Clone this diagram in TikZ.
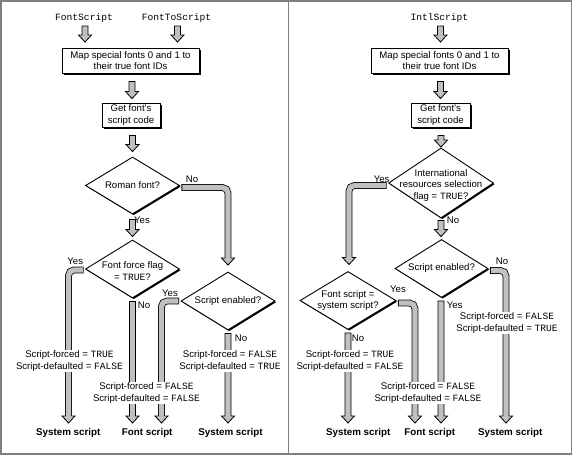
\documentclass[tikz,border=0pt]{standalone}
\usepackage{fontspec}
\setmainfont{Liberation Sans}
\setmonofont{Liberation Mono}
\usetikzlibrary{shapes.geometric,shadows,calc}
\definecolor{arrowgray}{HTML}{C0C0C0}
\definecolor{framegray}{HTML}{808080}
\newcommand\dfont{\fontsize{9.6}{11.3}\selectfont}
% straight downward fat arrow: #1 start, #2 tip
\newcommand\fatdown[2]{%
  \filldraw[fill=arrowgray,draw=black,line width=0.8pt,line join=miter]
    ($(#2|-#1)+(-3,0)$) -- ($(#2|-#1)+(3,0)$) -- ($(#2)+(3,-7)$) -- ($(#2)+(6.5,-7)$)
    -- (#2) -- ($(#2)+(-6.5,-7)$) -- ($(#2)+(-3,-7)$) -- cycle;}
% elbow fat arrow: #1 start (horizontal leg), #2 tip (downward), #3 direction (1 right, -1 left)
\newcommand\fatelbow[3]{%
  \draw[line width=6.8pt,black,rounded corners=5.5pt] (#1) -- (#2|-#1) -- ($(#2)+(0,-7)$);
  \draw[line width=5.2pt,arrowgray,rounded corners=5.5pt] ($(#1)+(#3*0.8,0)$) -- (#2|-#1) -- ($(#2)+(0,-6.6)$);
  \fill[arrowgray] ($(#2)+(-6.5,-7)$) -- (#2) -- ($(#2)+(6.5,-7)$) -- cycle;
  \draw[black,line width=0.8pt,line join=miter] ($(#2)+(-3,-7)$) -- ($(#2)+(-6.5,-7)$) -- (#2) -- ($(#2)+(6.5,-7)$) -- ($(#2)+(3,-7)$);}
\tikzset{
  procbox/.style={draw,fill=white,line width=0.9pt,inner sep=0pt,align=center,font=\dfont,
    drop shadow={shadow xshift=2pt,shadow yshift=-2pt,opacity=1,fill=black}},
  decision/.style={diamond,draw,fill=white,line width=0.9pt,inner sep=0pt,
    drop shadow={shadow xshift=1.2pt,shadow yshift=-1.2pt,opacity=1,fill=black}},
  dtext/.style={align=center,inner sep=0pt,font=\dfont},
  code/.style={inner sep=0pt,font=\fontsize{9.6}{11}\ttfamily},
  yn/.style={inner sep=0pt,font=\dfont},
  note/.style={fill=white,inner sep=1pt,align=center,font=\dfont},
  result/.style={inner sep=0pt,font=\fontsize{9.8}{11}\bfseries}
}
\begin{document}
\begin{tikzpicture}[x=1pt,y=-1pt]
\useasboundingbox (0,0) rectangle (573,455);
\fill[white] (0,0) rectangle (573,455);
\draw[framegray,line width=1.6pt] (1,1) rectangle (571.5,453.8);
\draw[framegray,line width=1.2pt] (288.8,1) -- (288.8,453.8);

%% ---------------- left panel ----------------
\node[code] (fs) at (84,18) {FontScript};
\node[code] (fts) at (176.5,18) {FontToScript};
\node[procbox,minimum width=137pt,minimum height=25pt] (m1) at (130.5,60.5) {Map special fonts 0 and 1 to\\their true font IDs};
\node[procbox,minimum width=58pt,minimum height=24pt] (g1) at (131,115) {Get font’s\\script code};
\node[decision,minimum width=94pt,minimum height=57pt] (d1) at (132.5,185.5) {};
\node[dtext] (d1t) at (d1) {Roman font?};
\node[decision,minimum width=94pt,minimum height=58pt] (d2) at (132.5,269) {};
\node[dtext] (d2t) at ($(d2)+(0,2)$) {Font force flag\\= \texttt{TRUE}?};
\node[decision,minimum width=94pt,minimum height=58pt] (d3) at (228,301) {};
\node[dtext] (d3t) at (d3) {Script enabled?};

\coordinate (a1s) at (85,26);     \coordinate (a1t) at (85,42);
\coordinate (a2s) at (177.5,26);  \coordinate (a2t) at (177.5,42);
\coordinate (a3s) at ($(m1.south)+(1.5,8)$);  \coordinate (a3t) at ($(g1.north)+(1,-4)$);
\coordinate (a4s) at ($(g1.south)+(1,8)$);    \coordinate (a4t) at ($(d1.north)+(0,-5)$);
\coordinate (a5s) at ($(d1.south)+(0,5)$);    \coordinate (a5t) at ($(d2.north)+(0,-3)$);
\coordinate (e6s) at ($(d1.east)+(1.5,2)$);   \coordinate (e6t) at ($(d3.north)+(0,-6.5)$);
\coordinate (e7s) at ($(d2.west)+(-1.5,1)$);  \coordinate (e7t) at (68.5,423);
\coordinate (a8s) at ($(d2.south)+(0,3)$);    \coordinate (a8t) at (132.5,423);
\coordinate (e9s) at ($(d3.west)+(-1.5,0)$);  \coordinate (e9t) at (161.5,423);
\coordinate (a10s) at ($(d3.south)+(0,3)$);   \coordinate (a10t) at (228,423);

\fatdown{a1s}{a1t}
\fatdown{a2s}{a2t}
\fatdown{a3s}{a3t}
\fatdown{a4s}{a4t}
\fatdown{a5s}{a5t}
\fatelbow{e6s}{e6t}{1}
\fatelbow{e7s}{e7t}{-1}
\fatdown{a8s}{a8t}
\fatelbow{e9s}{e9t}{-1}
\fatdown{a10s}{a10t}

\node[yn] (n1) at (192,179.5) {No};
\node[yn] (y1) at (142,220) {Yes};
\node[yn] (y2) at (75.3,261.5) {Yes};
\node[yn] (n2) at (144,305) {No};
\node[yn] (y3) at (170,293.5) {Yes};
\node[yn] (n3) at (241,338.5) {No};

\node[note] (l1) at (69.5,361) {Script-forced = \texttt{TRUE}\\Script-defaulted = \texttt{FALSE}};
\node[note] (l2) at (146.5,393) {Script-forced = \texttt{FALSE}\\Script-defaulted = \texttt{FALSE}};
\node[note] (l3) at (230,361) {Script-forced = \texttt{FALSE}\\Script-defaulted = \texttt{TRUE}};

\node[result] (r1) at (68.3,433) {System script};
\node[result] (r2) at (147.2,433) {Font script};
\node[result] (r3) at (230.5,433) {System script};

%% ---------------- right panel ----------------
\node[code] (is) at (439.3,18) {IntlScript};
\node[procbox,minimum width=137pt,minimum height=25pt] (m2) at (439.5,60.5) {Map special fonts 0 and 1 to\\their true font IDs};
\node[procbox,minimum width=59pt,minimum height=24pt] (g2) at (440.5,115) {Get font’s\\script code};
\node[decision,minimum width=105pt,minimum height=70pt] (d4) at (441,183) {};
\node[dtext] (d4t) at ($(d4)+(0,2.5)$) {International\\resources selection\\flag = \texttt{TRUE}?};
\node[decision,minimum width=93pt,minimum height=58pt] (d5) at (441.5,268.5) {};
\node[dtext] (d5t) at (d5) {Script enabled?};
\node[decision,minimum width=96pt,minimum height=58pt] (d6) at (348,300.5) {};
\node[dtext] (d6t) at (d6) {Font script =\\system script?};

\coordinate (b1s) at (440.5,26);  \coordinate (b1t) at (440.5,42);
\coordinate (b2s) at ($(m2.south)+(1,8)$);   \coordinate (b2t) at ($(g2.north)+(0,-4)$);
\coordinate (b3s) at ($(g2.south)+(0,8)$);   \coordinate (b3t) at ($(d4.north)+(0,-0.5)$);
\coordinate (b4s) at ($(d4.south)+(0,2)$);   \coordinate (b4t) at ($(d5.north)+(-0.5,-2.5)$);
\coordinate (f5s) at ($(d4.west)+(-1.5,2.5)$); \coordinate (f5t) at ($(d6.north)+(1,-6.5)$);
\coordinate (f6s) at ($(d5.east)+(1.5,2)$);  \coordinate (f6t) at (506,423);
\coordinate (b7s) at ($(d5.south)+(-0.5,3)$); \coordinate (b7t) at (441,423);
\coordinate (f8s) at ($(d6.east)+(1.5,2.5)$); \coordinate (f8t) at (415,423);
\coordinate (b9s) at ($(d6.south)+(0,3)$);   \coordinate (b9t) at (348,423);

\fatdown{b1s}{b1t}
\fatdown{b2s}{b2t}
\fatdown{b3s}{b3t}
\fatdown{b4s}{b4t}
\fatelbow{f5s}{f5t}{-1}
\fatelbow{f6s}{f6t}{1}
\fatdown{b7s}{b7t}
\fatelbow{f8s}{f8t}{1}
\fatdown{b9s}{b9t}

\node[yn] (y4) at (381.7,179.7) {Yes};
\node[yn] (n4) at (453,220.5) {No};
\node[yn] (n5) at (502,261.5) {No};
\node[yn] (y5) at (398,289.7) {Yes};
\node[yn] (y6) at (454.7,305) {Yes};
\node[yn] (n6) at (358,338.5) {No};

\node[note] (l4) at (507,323) {Script-forced = \texttt{FALSE}\\Script-defaulted = \texttt{TRUE}};
\node[note] (l5) at (350,361) {Script-forced = \texttt{TRUE}\\Script-defaulted = \texttt{FALSE}};
\node[note] (l6) at (428,393) {Script-forced = \texttt{FALSE}\\Script-defaulted = \texttt{FALSE}};

\node[result] (r4) at (358.3,433) {System script};
\node[result] (r5) at (429.7,433) {Font script};
\node[result] (r6) at (510.2,433) {System script};
\end{tikzpicture}
\end{document}
